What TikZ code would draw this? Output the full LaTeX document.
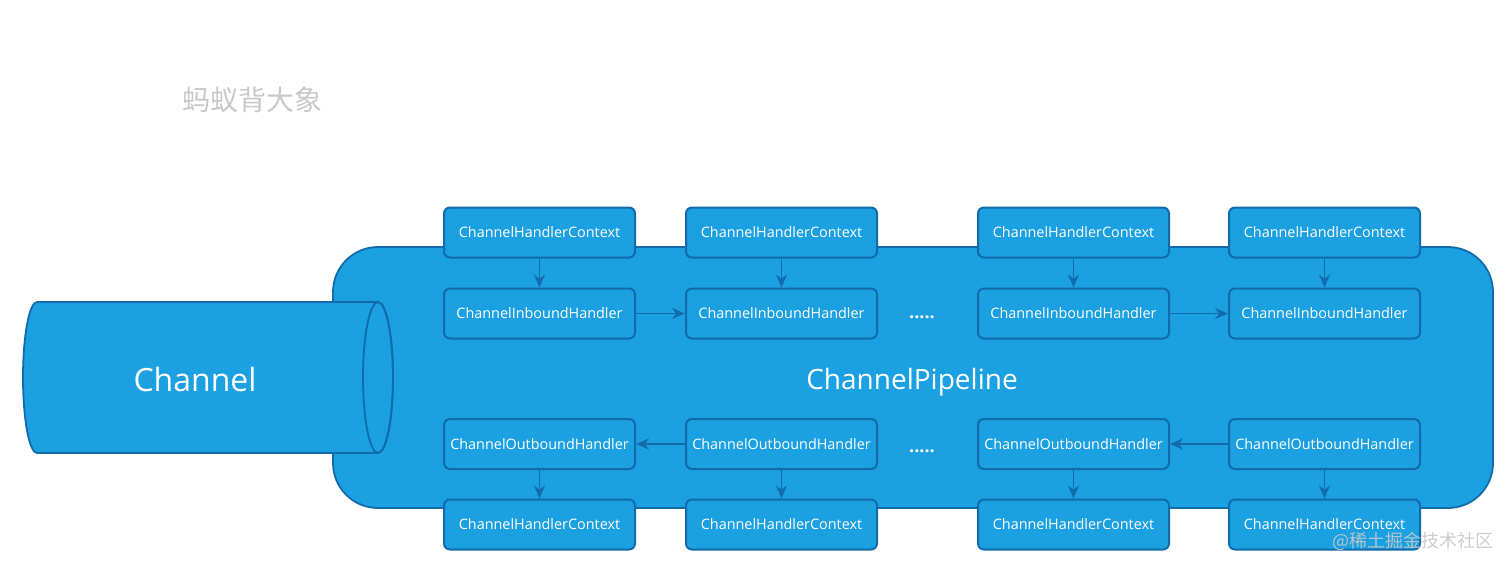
\documentclass[tikz,border=0pt]{standalone}
\usepackage{fontspec}
\usetikzlibrary{arrows.meta}
\setmainfont{Open Sans}
\newfontfamily\cjk{Noto Sans CJK SC}
\definecolor{fillblue}{RGB}{27,160,226}
\definecolor{edgeblue}{RGB}{18,108,172}
\definecolor{wmgray}{RGB}{200,200,200}
\tikzset{
  hbox/.style={draw=edgeblue, line width=1pt, fill=fillblue, rounded corners=3pt,
    minimum width=95.5pt, minimum height=25pt, inner sep=0pt, text=white,
    font=\fontsize{7.2pt}{9pt}\selectfont, yshift=-0.5pt},
  flow/.style={draw=edgeblue, line width=0.9pt, -{Stealth[length=6.5pt,width=5.5pt]}},
  dots/.style={text=white, font=\fontsize{9pt}{10pt}\selectfont\bfseries},
}
\begin{document}
\begin{tikzpicture}[x=0.5pt,y=0.5pt]
\useasboundingbox (0,0) rectangle (1512,570);
% pipeline
\node[draw=edgeblue, line width=0.9pt, fill=fillblue, rounded corners=22.5pt,
  minimum width=580pt, minimum height=130.5pt, inner sep=0pt] (pipe) at (913,192.5) {};
\node[text=white, font=\fontsize{14pt}{16pt}\selectfont] (pipelabel) at (912,188) {ChannelPipeline};
% channel cylinder
\draw[draw=edgeblue, line width=0.9pt, fill=fillblue]
  (37,268) -- (378,268) arc[start angle=90, end angle=-90, x radius=7.5pt, y radius=37.75pt]
  -- (37,117) arc[start angle=270, end angle=90, x radius=7pt, y radius=37.75pt] -- cycle;
\draw[draw=edgeblue, line width=0.9pt] (378,192.5) ellipse[x radius=7.5pt, y radius=37.75pt];
\node[text=white, font=\fontsize{16pt}{18pt}\selectfont] (channel) at (195,191) {Channel};
% boxes
\foreach \c/\x in {1/539.5,2/781.5,3/1073.5,4/1324.5}{
  \node[hbox] (ctxa\c) at (\x,338.5) {ChannelHandlerContext};
  \node[hbox] (in\c) at (\x,257.5) {ChannelInboundHandler};
  \node[hbox] (out\c) at (\x,127) {ChannelOutboundHandler};
  \node[hbox] (ctxb\c) at (\x,46.5) {ChannelHandlerContext};
  \draw[flow] (ctxa\c) -- (in\c);
  \draw[flow] (out\c) -- (ctxb\c);
}
\draw[flow] (in1) -- (in2);
\draw[flow] (in3) -- (in4);
\draw[flow] (out2) -- (out1);
\draw[flow] (out4) -- (out3);
\node[dots] (dotsa) at (922,253) {.....};
\node[dots] (dotsb) at (922,119) {.....};
% watermarks
\node[text=wmgray, font=\cjk\fontsize{14pt}{16pt}\selectfont] (wm1) at (252,470) {蚂蚁背大象};
\node[text=wmgray, opacity=0.9, font=\cjk\fontsize{9pt}{10pt}\selectfont] (wm2) at (1413,29) {@稀土掘金技术社区};
\end{tikzpicture}
\end{document}
